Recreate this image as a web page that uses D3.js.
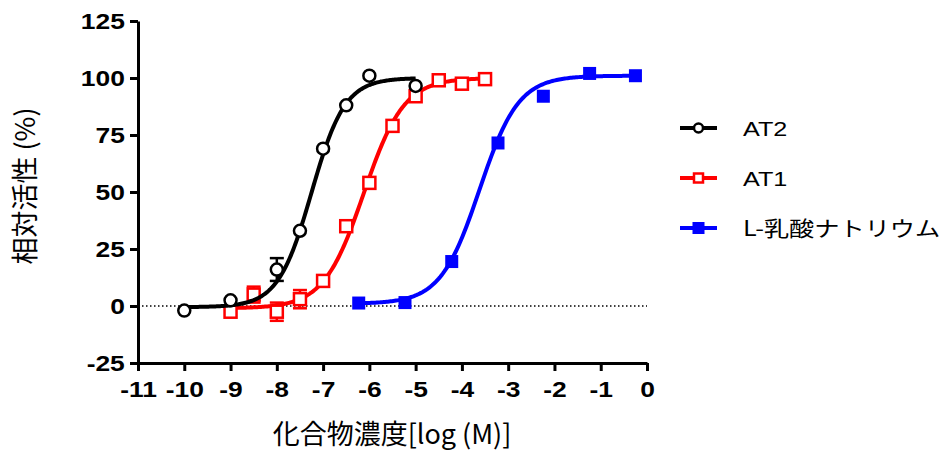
<!DOCTYPE html>
<html>
<head>
<meta charset="utf-8">
<script src="https://cdn.jsdelivr.net/npm/d3@7"></script>
<style>
  body { margin: 0; background: #fff; }
  text { font-family: "Liberation Sans", Arial, sans-serif; }
  .jp { font-family: "Noto Sans CJK JP", "Liberation Sans", sans-serif; }
</style>
</head>
<body>
<script>
var canvasWidth = 945;
var canvasHeight = 456;
var margin = { top: 21, right: 298, bottom: 93, left: 138 };
var stretch = 1.2;

// data
var seriesNames = ["AT2", "AT1", "L-乳酸ナトリウム"];
var seriesColors = ["#000000", "#ff0000", "#0000ff"];

var at2X = [-10, -9, -8, -7.5, -7, -6.5, -6, -5];
var at2Y = [-2, 2.5, 16, 33, 69, 88, 101, 96.5];
var at2Err = [0, 0, 5, 0, 0, 0, 0, 0];

var at1X = [-9, -8.5, -8, -7.5, -7, -6.5, -6, -5.5, -5, -4.5, -4, -3.5];
var at1Y = [-2.5, 5, -2.5, 3, 11, 35, 54, 79, 92, 99, 97.5, 99.5];
var at1Err = [0, 3.5, 4, 4, 0, 0, 0, 0, 0, 0, 0, 0];

var lacX = [-6.23, -5.23, -4.22, -3.22, -2.24, -1.24, -0.25];
var lacY = [1.3, 1.5, 19.5, 71.5, 92, 102, 101];
var lacErr = [0, 0, 0, 0, 0, 0, 0];

// fitted sigmoid parameters (bottom, top, logEC50, hill)
var fitBottom = [-0.5, -1, 1];
var fitTop = [100, 100, 101];
var fitLogEC50 = [-7.25, -6.12, -3.62];
var fitHill = [1.2, 1.0, 1.03];

var xTicks = [-11, -10, -9, -8, -7, -6, -5, -4, -3, -2, -1, 0];
var yTicks = [-25, 0, 25, 50, 75, 100, 125];

var width = canvasWidth - margin.left - margin.right;
var height = canvasHeight - margin.top - margin.bottom;

var svg = d3.select("body").append("svg")
    .attr("width", canvasWidth)
    .attr("height", canvasHeight);

var xScale = d3.scaleLinear().domain([-11, 0]).range([0, width]);
var yScale = d3.scaleLinear().domain([-25, 125]).range([height, 0]);

var g = svg.append("g")
    .attr("transform", "translate(" + margin.left + ", " + margin.top + ")");

// dotted zero line
g.append("line")
    .attr("x1", 0).attr("x2", width)
    .attr("y1", yScale(0)).attr("y2", yScale(0))
    .attr("stroke", "black")
    .attr("stroke-width", 1.3)
    .attr("stroke-dasharray", "1.5,2.5");

// axes (plain hyphen for negatives, like the original)
var fmt = d => String(d);
var xAxis = g.append("g")
    .attr("transform", "translate(0, " + height + ")")
    .call(d3.axisBottom(xScale).tickValues(xTicks).tickFormat(fmt).tickSize(8).tickSizeOuter(0).tickPadding(10));
var yAxis = g.append("g")
    .call(d3.axisLeft(yScale).tickValues(yTicks).tickFormat(fmt).tickSize(8).tickSizeOuter(0).tickPadding(3));

[xAxis, yAxis].forEach(function(ax) {
    ax.select(".domain").attr("stroke-width", 3);
    ax.selectAll(".tick line").attr("stroke-width", 3);
    ax.selectAll(".tick text")
        .attr("font-size", "22px")
        .attr("font-weight", "bold")
        .attr("fill", "black")
        .attr("transform", "scale(" + stretch + ",1)");
});
xAxis.selectAll(".tick text").attr("dy", "0.72em");
yAxis.selectAll(".tick text").attr("dy", "0.36em");

// axis titles
svg.append("text")
    .attr("class", "jp")
    .attr("transform", "translate(35, 186) rotate(-90)")
    .attr("text-anchor", "middle")
    .attr("font-size", "27px")
    .text("相対活性 (%)");

svg.append("text")
    .attr("class", "jp")
    .attr("transform", "translate(392, 444)")
    .attr("text-anchor", "middle")
    .attr("font-size", "27px")
    .text("化合物濃度[log (M)]");

// series
var series = [
    { xs: at2X, ys: at2Y, err: at2Err, marker: "circle" },
    { xs: at1X, ys: at1Y, err: at1Err, marker: "square" },
    { xs: lacX, ys: lacY, err: lacErr, marker: "filled" }
];

function drawMarker(sel, type, color, size) {
    if (type === "circle") {
        sel.append("circle")
            .attr("r", size / 2)
            .attr("fill", "white")
            .attr("stroke", color)
            .attr("stroke-width", 2.5);
    } else {
        sel.append("rect")
            .attr("x", -size / 2).attr("y", -size / 2)
            .attr("width", size).attr("height", size)
            .attr("fill", type === "filled" ? color : "white")
            .attr("stroke", color)
            .attr("stroke-width", type === "filled" ? 0 : 2.5);
    }
}

var line = d3.line().x(d => xScale(d[0])).y(d => yScale(d[1]));

[2, 1, 0].forEach(function(i) {
    var s = series[i];
    var color = seriesColors[i];
    var pts = s.xs.map((x, j) => ({ x: x, y: s.ys[j], e: s.err[j] }));
    var sg = g.append("g");

    // fitted curve
    var x0 = d3.min(s.xs), x1 = d3.max(s.xs);
    var curve = d3.range(0, 201).map(function(k) {
        var x = x0 + (x1 - x0) * k / 200;
        var y = fitBottom[i] + (fitTop[i] - fitBottom[i]) / (1 + Math.pow(10, (fitLogEC50[i] - x) * fitHill[i]));
        return [x, y];
    });
    sg.append("path")
        .datum(curve)
        .attr("d", line)
        .attr("fill", "none")
        .attr("stroke", color)
        .attr("stroke-width", 4);

    // error bars
    pts.filter(d => d.e > 0).forEach(function(d) {
        var eg = sg.append("g").attr("stroke", color).attr("stroke-width", 2.5);
        eg.append("line")
            .attr("x1", xScale(d.x)).attr("x2", xScale(d.x))
            .attr("y1", yScale(d.y - d.e)).attr("y2", yScale(d.y + d.e));
        [d.y - d.e, d.y + d.e].forEach(function(v) {
            eg.append("line")
                .attr("x1", xScale(d.x) - 7).attr("x2", xScale(d.x) + 7)
                .attr("y1", yScale(v)).attr("y2", yScale(v));
        });
    });

    // markers
    pts.forEach(function(d) {
        var mg = sg.append("g").attr("transform", "translate(" + xScale(d.x) + "," + yScale(d.y) + ")");
        drawMarker(mg, s.marker, color, s.marker === "filled" ? 13 : 12);
    });
});

// legend
var legendY = [128, 178, 228];
seriesNames.forEach(function(name, i) {
    var lg = svg.append("g").attr("transform", "translate(680," + legendY[i] + ")");
    lg.append("line")
        .attr("x1", 0).attr("x2", 37)
        .attr("y1", 0).attr("y2", 0)
        .attr("stroke", seriesColors[i])
        .attr("stroke-width", 4);
    var mg = lg.append("g").attr("transform", "translate(18.5,0)");
    drawMarker(mg, series[i].marker, seriesColors[i], i === 2 ? 12 : 9);
    lg.append("text")
        .attr("class", i === 2 ? "jp" : null)
        .attr("transform", "translate(63,0) scale(" + stretch + ",1)")
        .attr("dy", "0.36em")
        .attr("font-size", "21px")
        .text(name);
});
</script>
</body>
</html>
